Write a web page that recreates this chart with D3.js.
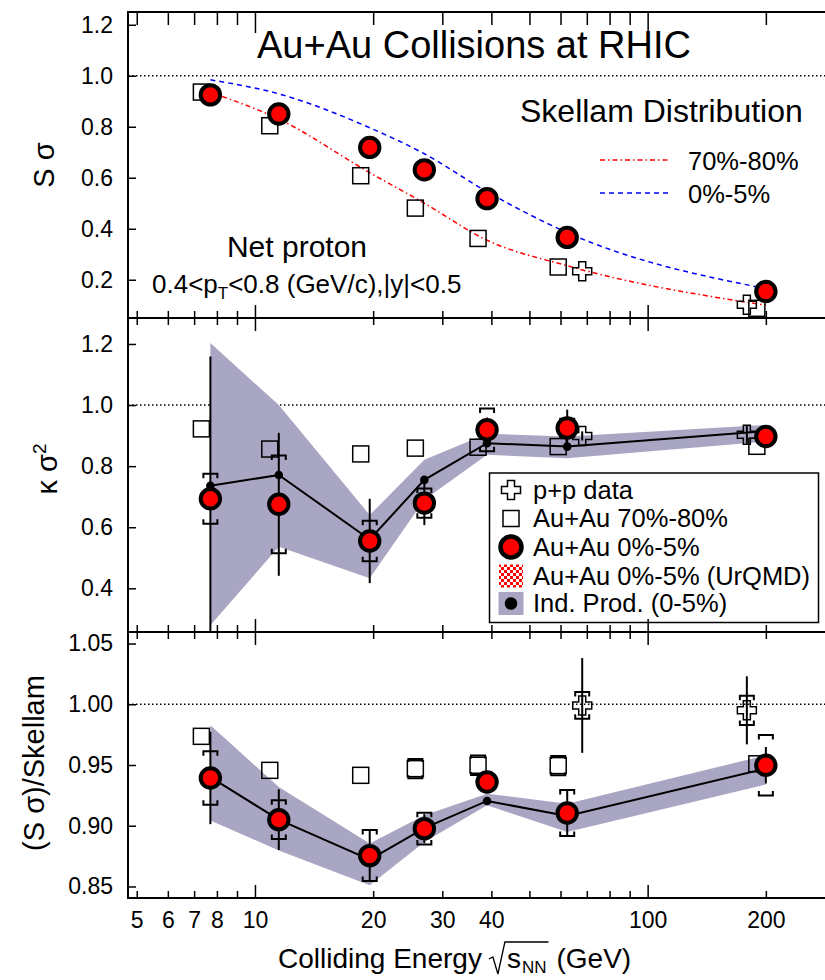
<!DOCTYPE html>
<html>
<head>
<meta charset="utf-8">
<script src="https://cdn.jsdelivr.net/npm/d3@7"></script>
<style>
  body { margin: 0; background: #fff; }
  svg { display: block; }
  text { font-family: "Liberation Sans", Arial, Helvetica, sans-serif; fill: #000; }
</style>
</head>
<body>
<svg id="chart" width="825" height="980"></svg>
<script>
// ---- Data -------------------------------------------------------------
// Collision energies sqrt(s_NN) in GeV
const energies = [7.7, 11.5, 19.6, 27, 39, 62.4, 200];
const ppEnergies = [62.4, 200];

// S*sigma
const ssCentral = [0.925, 0.850, 0.719, 0.631, 0.518, 0.366, 0.154];
const ssPeripheral = [0.936, 0.804, 0.608, 0.481, 0.362, 0.250, 0.088];
const ssPP = [0.233, 0.102];
const skellamPeripheral = [0.935, 0.830, 0.620, 0.500, 0.355, 0.255, 0.100];
const skellamCentral = [0.984, 0.929, 0.796, 0.694, 0.545, 0.385, 0.165];

// kappa*sigma^2
const ksCentral = [0.693, 0.675, 0.555, 0.679, 0.919, 0.925, 0.897];
const ksCentralStat = [0.466, 0.234, 0.138, 0.072, 0.040, 0.060, 0.020];
const ksCentralSys = [0.082, 0.160, 0.066, 0.048, 0.070, 0.030, 0.015];
const ksPeripheral = [0.922, 0.856, 0.840, 0.859, 0.862, 0.864, 0.865];
const ksPP = [0.899, 0.903];
const ksPPStat = [0.015, 0.030];
const ksIndProd = [0.736, 0.771, 0.560, 0.755, 0.875, 0.864, 0.915];
const ksIndLow = [0.279, 0.536, 0.433, 0.690, 0.837, 0.826, 0.880];
const ksIndHigh = [1.203, 1.000, 0.640, 0.821, 0.906, 0.897, 0.935];

// (S*sigma)/Skellam
const ratioCentral = [0.9393, 0.905, 0.8754, 0.8976, 0.936, 0.9105, 0.9498];
const ratioCentralStat = [0.038, 0.025, 0.021, 0.012, 0.008, 0.019, 0.015];
const ratioCentralSys = [0.022, 0.016, 0.021, 0.013, 0.006, 0.019, 0.025];
const ratioPeripheral = [0.9736, 0.9456, 0.9415, 0.947, 0.9498, 0.9495, 0.951];
const ratioPeripheralSys = [0, 0, 0, 0.008, 0.008, 0.008, 0];
const ratioPP = [0.999, 0.995];
const ratioPPStat = [0.039, 0.028];
const ratioPPSys = [0.011, 0.012];
const ratioIndProd = [0.940, 0.905, 0.872, 0.898, 0.9204, 0.908, 0.947];
const ratioIndLow = [0.9044, 0.8797, 0.851, 0.8866, 0.9168, 0.8948, 0.934];
const ratioIndHigh = [0.9827, 0.9319, 0.8853, 0.9086, 0.9264, 0.918, 0.958];

// Axis ticks
const xMajorTicks = [10, 100];
const xMinorTicks = [5, 6, 7, 8, 9, 20, 30, 40, 50, 60, 70, 80, 90, 200, 300];
const xTickLabels = [5, 6, 7, 8, 10, 20, 30, 40, 100, 200];
const ssTicks = [0.2, 0.4, 0.6, 0.8, 1.0, 1.2];
const ksTicks = [0.4, 0.6, 0.8, 1.0, 1.2];
const ratioTicks = [0.85, 0.90, 0.95, 1.00, 1.05];

// ---- Style ------------------------------------------------------------
const FONT = '"Liberation Sans", Arial, Helvetica, sans-serif';
const RED = '#ff0000';
const BAND = '#a9a6c3';
const SQUARE_SHIFT = -9;          // peripheral points drawn slightly left
const PP_SHIFT = [15, -19];       // p+p points nudged off the Au+Au markers
const LEFT = 128, RIGHT = 835;

const svg = d3.select('#chart');
const defs = svg.append('defs');

// checkerboard fill for the UrQMD legend key
const pat = defs.append('pattern').attr('id', 'checker')
  .attr('width', 6).attr('height', 6).attr('patternUnits', 'userSpaceOnUse');
pat.append('rect').attr('width', 6).attr('height', 6).attr('fill', '#fff');
pat.append('rect').attr('width', 3).attr('height', 3).attr('fill', RED);
pat.append('rect').attr('x', 3).attr('y', 3).attr('width', 3).attr('height', 3).attr('fill', RED);

const x = d3.scaleLog().domain([4.75, 300]).range([LEFT, RIGHT]);

const panelSpecs = [
  { top: 12, bottom: 318, domain: [0.05, 1.25], ticks: ssTicks, fmt: d3.format('.1f'), topMinor: 13, topMajor: 21 },
  { top: 318, bottom: 632, domain: [0.257, 1.285], ticks: ksTicks, fmt: d3.format('.1f'), topMinor: 7, topMajor: 13 },
  { top: 632, bottom: 898, domain: [0.8405, 1.0595], ticks: ratioTicks, fmt: d3.format('.2f'), topMinor: 7, topMajor: 13 }
];

const panels = panelSpecs.map((p, i) => {
  const y = d3.scaleLinear().domain(p.domain).range([p.bottom, p.top]);
  defs.append('clipPath').attr('id', 'clip' + i)
    .append('rect').attr('x', LEFT).attr('y', p.top)
    .attr('width', RIGHT - LEFT).attr('height', p.bottom - p.top);
  const plot = svg.append('g').attr('clip-path', `url(#clip${i})`);
  return Object.assign({}, p, { y, plot });
});

// ---- Marker helpers ---------------------------------------------------
function unityLine(p) {
  p.plot.append('line')
    .attr('x1', LEFT).attr('x2', RIGHT)
    .attr('y1', p.y(1)).attr('y2', p.y(1))
    .attr('stroke', '#000').attr('stroke-width', 1.5)
    .attr('stroke-dasharray', '1.5,2.5');
}

function squares(g, xs, ys, yScale, shift) {
  g.selectAll(null).data(xs).join('rect')
    .attr('x', (d, i) => x(d) + shift - 8)
    .attr('y', (d, i) => yScale(ys[i]) - 8)
    .attr('width', 16).attr('height', 16)
    .attr('fill', 'none').attr('stroke', '#000').attr('stroke-width', 1.5);
}

function crossPath(cx, cy, a = 3.5, L = 9.5) {
  return `M${cx - a},${cy - L}H${cx + a}V${cy - a}H${cx + L}V${cy + a}H${cx + a}V${cy + L}` +
         `H${cx - a}V${cy + a}H${cx - L}V${cy - a}H${cx - a}Z`;
}

function crosses(g, xs, ys, yScale) {
  g.selectAll(null).data(xs).join('path')
    .attr('d', (d, i) => crossPath(x(d) + PP_SHIFT[i], yScale(ys[i])))
    .attr('fill', 'none').attr('stroke', '#000').attr('stroke-width', 1.5);
}

function circles(g, xs, ys, yScale) {
  g.selectAll(null).data(xs).join('circle')
    .attr('cx', d => x(d)).attr('cy', (d, i) => yScale(ys[i]))
    .attr('r', 9.7).attr('fill', RED).attr('stroke', '#000').attr('stroke-width', 4);
}

function statBars(g, xs, ys, errs, yScale, shifts) {
  xs.forEach((e, i) => {
    if (!errs[i]) return;
    const cx = x(e) + (shifts ? shifts[i] : 0);
    g.append('line')
      .attr('x1', cx).attr('x2', cx)
      .attr('y1', yScale(ys[i] - errs[i])).attr('y2', yScale(ys[i] + errs[i]))
      .attr('stroke', '#000').attr('stroke-width', 2);
  });
}

function sysBrackets(g, xs, ys, errs, yScale, shifts, w = 7, leg = 4.5) {
  xs.forEach((e, i) => {
    if (!errs[i]) return;
    const cx = x(e) + (shifts ? shifts[i] : 0);
    const yt = yScale(ys[i] + errs[i]);
    const yb = yScale(ys[i] - errs[i]);
    g.append('path')
      .attr('d', `M${cx - w},${yt + leg}V${yt}H${cx + w}V${yt + leg}` +
                 `M${cx - w},${yb - leg}V${yb}H${cx + w}V${yb - leg}`)
      .attr('fill', 'none').attr('stroke', '#000').attr('stroke-width', 2);
  });
}

function indProd(g, vals, lo, hi, yScale) {
  const rows = energies.map((e, i) => ({ e, v: vals[i], lo: lo[i], hi: hi[i] }));
  g.append('path').datum(rows)
    .attr('d', d3.area().x(d => x(d.e)).y0(d => yScale(d.lo)).y1(d => yScale(d.hi)))
    .attr('fill', BAND);
  return rows;
}

function indLine(g, rows, yScale) {
  g.append('path').datum(rows)
    .attr('d', d3.line().x(d => x(d.e)).y(d => yScale(d.v)))
    .attr('fill', 'none').attr('stroke', '#000').attr('stroke-width', 2);
  g.selectAll(null).data(rows).join('circle')
    .attr('cx', d => x(d.e)).attr('cy', d => yScale(d.v)).attr('r', 4.3).attr('fill', '#000');
}

// ---- Panel 1: S sigma --------------------------------------------------
{
  const p = panels[0], g = p.plot, y = p.y;
  unityLine(p);
  const curve = vals => d3.line().x(d => x(d)).y((d, i) => y(vals[i])).curve(d3.curveMonotoneX)(energies);
  g.append('path').attr('d', curve(skellamPeripheral))
    .attr('fill', 'none').attr('stroke', RED).attr('stroke-width', 1.5)
    .attr('stroke-dasharray', '5,3,1.5,3');
  g.append('path').attr('d', curve(skellamCentral))
    .attr('fill', 'none').attr('stroke', '#0000ff').attr('stroke-width', 1.5)
    .attr('stroke-dasharray', '5,4');
  squares(g, energies, ssPeripheral, y, SQUARE_SHIFT);
  crosses(g, ppEnergies, ssPP, y);
  circles(g, energies, ssCentral, y);

  svg.append('text').attr('x', 474).attr('y', 58).attr('text-anchor', 'middle')
    .attr('font-size', 38).text('Au+Au Collisions at RHIC');
  svg.append('text').attr('x', 520).attr('y', 122).attr('font-size', 32).text('Skellam Distribution');
  svg.append('line').attr('x1', 600).attr('x2', 668).attr('y1', 160).attr('y2', 160)
    .attr('stroke', RED).attr('stroke-width', 1.5).attr('stroke-dasharray', '5,3,1.5,3');
  svg.append('text').attr('x', 688).attr('y', 170).attr('font-size', 25.5).text('70%-80%');
  svg.append('line').attr('x1', 600).attr('x2', 668).attr('y1', 193).attr('y2', 193)
    .attr('stroke', '#0000ff').attr('stroke-width', 1.5).attr('stroke-dasharray', '5,4');
  svg.append('text').attr('x', 688).attr('y', 203).attr('font-size', 25.5).text('0%-5%');

  svg.append('text').attr('x', 297).attr('y', 257).attr('text-anchor', 'middle')
    .attr('font-size', 30).text('Net proton');
  const kin = svg.append('text').attr('x', 152).attr('y', 293).attr('font-size', 26);
  kin.append('tspan').text('0.4<p');
  kin.append('tspan').attr('dy', 6).attr('font-size', 17).text('T');
  kin.append('tspan').attr('dy', -6).text('<0.8 (GeV/c),|y|<0.5');
}

// ---- Panel 2: kappa sigma^2 -------------------------------------------
{
  const p = panels[1], g = p.plot, y = p.y;
  unityLine(p);
  const rows = indProd(g, ksIndProd, ksIndLow, ksIndHigh, y);
  squares(g, energies, ksPeripheral, y, SQUARE_SHIFT);
  indLine(g, rows, y);
  statBars(g, ppEnergies, ksPP, ksPPStat, y, PP_SHIFT);
  crosses(g, ppEnergies, ksPP, y);
  statBars(g, energies, ksCentral, ksCentralStat, y);
  sysBrackets(g, energies, ksCentral, ksCentralSys, y);
  circles(g, energies, ksCentral, y);

  // legend
  const lg = svg.append('g');
  lg.append('rect').attr('x', 489.5).attr('y', 473).attr('width', 329).attr('height', 149.5)
    .attr('fill', '#fff').attr('stroke', '#000').attr('stroke-width', 1.5);
  const kx = 511, tx = 533;
  const rowsY = [490, 518.5, 547, 576.5, 603.5];
  lg.append('path').attr('d', crossPath(kx, rowsY[0]))
    .attr('fill', 'none').attr('stroke', '#000').attr('stroke-width', 1.5);
  lg.append('rect').attr('x', kx - 8).attr('y', rowsY[1] - 8).attr('width', 16).attr('height', 16)
    .attr('fill', 'none').attr('stroke', '#000').attr('stroke-width', 1.5);
  lg.append('circle').attr('cx', kx).attr('cy', rowsY[2]).attr('r', 10.5)
    .attr('fill', RED).attr('stroke', '#000').attr('stroke-width', 4.5);
  lg.append('rect').attr('x', kx - 12).attr('y', rowsY[3] - 12).attr('width', 24).attr('height', 23)
    .attr('fill', 'url(#checker)');
  lg.append('rect').attr('x', kx - 12.5).attr('y', rowsY[4] - 11.5).attr('width', 25).attr('height', 23)
    .attr('fill', BAND);
  lg.append('circle').attr('cx', kx).attr('cy', rowsY[4]).attr('r', 6.3).attr('fill', '#000');
  const labels = ['p+p data', 'Au+Au 70%-80%', 'Au+Au 0%-5%', 'Au+Au 0%-5% (UrQMD)', 'Ind. Prod. (0-5%)'];
  labels.forEach((t, i) => {
    lg.append('text').attr('x', tx).attr('y', rowsY[i] + 8.5).attr('font-size', 25.5).text(t);
  });
}

// ---- Panel 3: (S sigma)/Skellam ---------------------------------------
{
  const p = panels[2], g = p.plot, y = p.y;
  unityLine(p);
  const rows = indProd(g, ratioIndProd, ratioIndLow, ratioIndHigh, y);
  const sqShift = energies.map(() => SQUARE_SHIFT);
  sysBrackets(g, energies, ratioPeripheral, ratioPeripheralSys, y, sqShift, 7, 3);
  squares(g, energies, ratioPeripheral, y, SQUARE_SHIFT);
  indLine(g, rows, y);
  statBars(g, ppEnergies, ratioPP, ratioPPStat, y, PP_SHIFT);
  sysBrackets(g, ppEnergies, ratioPP, ratioPPSys, y, PP_SHIFT);
  crosses(g, ppEnergies, ratioPP, y);
  statBars(g, energies, ratioCentral, ratioCentralStat, y);
  sysBrackets(g, energies, ratioCentral, ratioCentralSys, y);
  circles(g, energies, ratioCentral, y);
}

// ---- Frames and axes --------------------------------------------------
panels.forEach((p, i) => {
  const ax = svg.append('g').attr('font-family', FONT);
  const styleTicks = s => {
    s.select('.domain').remove();
    s.selectAll('line').attr('stroke', '#000').attr('stroke-width', 1.5);
  };
  // y axis with inward ticks
  ax.append('g').attr('transform', `translate(${LEFT},0)`)
    .call(d3.axisLeft(p.y).tickValues(p.ticks).tickFormat(p.fmt).tickSize(-8).tickPadding(15))
    .attr('font-size', 23).attr('font-family', FONT)
    .call(styleTicks)
    .call(s => s.selectAll('text').attr('fill', '#000'));
  // x ticks on top and bottom edges, pointing into the panel
  [[xMinorTicks, 7], [xMajorTicks, 13]].forEach(([vals, len]) => {
    ax.append('g').attr('transform', `translate(0,${p.bottom})`)
      .call(d3.axisBottom(x).tickValues(vals).tickFormat('').tickSize(-len))
      .call(styleTicks);
  });
  [[xMinorTicks, p.topMinor], [xMajorTicks, p.topMajor]].forEach(([vals, len]) => {
    ax.append('g').attr('transform', `translate(0,${p.top})`)
      .call(d3.axisTop(x).tickValues(vals).tickFormat('').tickSize(-len))
      .call(styleTicks);
  });
  ax.append('rect').attr('x', LEFT).attr('y', p.top)
    .attr('width', RIGHT - LEFT).attr('height', p.bottom - p.top)
    .attr('fill', 'none').attr('stroke', '#000').attr('stroke-width', 2);
});

// x tick labels on the bottom panel
svg.append('g').attr('transform', `translate(0,${panels[2].bottom})`)
  .call(d3.axisBottom(x).tickValues(xTickLabels).tickFormat(d3.format('d')).tickSize(0).tickPadding(14))
  .attr('font-size', 23).attr('font-family', FONT)
  .call(s => s.select('.domain').remove())
  .call(s => s.selectAll('text').attr('fill', '#000'));

// ---- Axis titles ------------------------------------------------------
svg.append('text').attr('transform', 'translate(54,165) rotate(-90)')
  .attr('text-anchor', 'middle').attr('font-size', 29).text('S σ');
{
  const t = svg.append('text').attr('transform', 'translate(57,469) rotate(-90)')
    .attr('text-anchor', 'middle').attr('font-size', 29);
  t.append('tspan').text('κ σ');
  t.append('tspan').attr('dy', -11).attr('font-size', 19).text('2');
}
svg.append('text').attr('transform', 'translate(44,763) rotate(-90)')
  .attr('text-anchor', 'middle').attr('font-size', 29).text('(S σ)/Skellam');

// x title with a drawn radical over s_NN
{
  const g = svg.append('g').attr('font-size', 28);
  const base = 968, x0 = 278;
  const t1 = g.append('text').attr('x', x0).attr('y', base).text('Colliding Energy');
  const radStart = x0 + t1.node().getComputedTextLength() + 7;
  let cx = radStart + 18;
  const ts = g.append('text').attr('x', cx).attr('y', base).text('s');
  cx += ts.node().getComputedTextLength() + 1;
  const tn = g.append('text').attr('x', cx).attr('y', base + 5).attr('font-size', 17).text('NN');
  cx += tn.node().getComputedTextLength() + 2;
  g.append('path')
    .attr('d', `M${radStart},${base - 9}L${radStart + 4},${base - 11}L${radStart + 9},${base + 6}` +
               `L${radStart + 16},${base - 26}H${cx}`)
    .attr('fill', 'none').attr('stroke', '#000').attr('stroke-width', 1.3);
  g.append('text').attr('x', cx + 8).attr('y', base).text('(GeV)');
}
</script>
</body>
</html>
